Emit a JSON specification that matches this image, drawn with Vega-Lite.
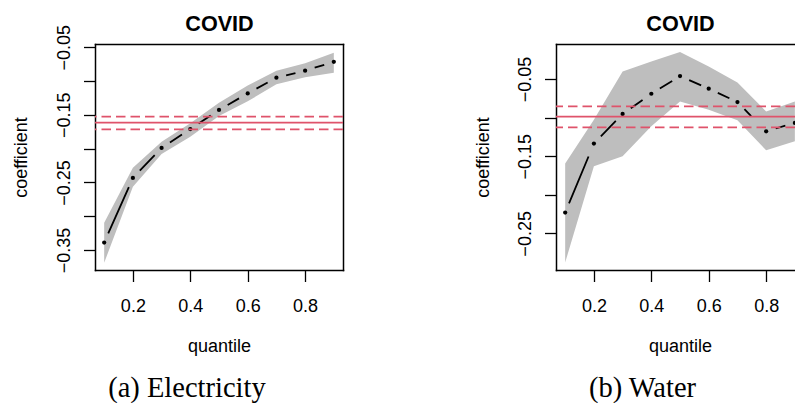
{
  "$schema": "https://vega.github.io/schema/vega-lite/v6.json",
  "background": "white",
  "autosize": {"type": "pad"},
  "padding": {"left": 12, "top": 13, "right": 0, "bottom": 0},
  "spacing": 130,
  "config": {
    "view": {"stroke": null},
    "axis": {
      "labelFont": "Liberation Sans",
      "titleFont": "Liberation Sans",
      "labelFontSize": 18,
      "titleFontSize": 18,
      "titleFontWeight": "normal",
      "labelColor": "black",
      "titleColor": "black",
      "domainColor": "black",
      "tickColor": "black",
      "domainWidth": 1.5,
      "domainCap": "square",
      "tickWidth": 1.3,
      "tickSize": 11.5,
      "grid": false,
      "labelFlush": false,
      "labelOverlap": false
    }
  },
  "datasets": {
    "electricity": [
      {"q": 0.1, "coef": -0.339, "lo": -0.3688, "hi": -0.3096},
      {"q": 0.2, "coef": -0.2433, "lo": -0.2563, "hi": -0.2282},
      {"q": 0.3, "coef": -0.199, "lo": -0.2079, "hi": -0.1897},
      {"q": 0.4, "coef": -0.171, "lo": -0.1823, "hi": -0.1625},
      {"q": 0.5, "coef": -0.1427, "lo": -0.1517, "hi": -0.132},
      {"q": 0.6, "coef": -0.1183, "lo": -0.13, "hi": -0.1065},
      {"q": 0.7, "coef": -0.095, "lo": -0.1048, "hi": -0.0846},
      {"q": 0.8, "coef": -0.0846, "lo": -0.0944, "hi": -0.0737},
      {"q": 0.9, "coef": -0.0716, "lo": -0.0876, "hi": -0.058}
    ],
    "electricity_ols": [{"est": -0.1616, "lo": -0.1714, "hi": -0.1527}],
    "water": [
      {"q": 0.1, "coef": -0.2231, "lo": -0.2877, "hi": -0.1594},
      {"q": 0.2, "coef": -0.1336, "lo": -0.1629, "hi": -0.1026},
      {"q": 0.3, "coef": -0.0952, "lo": -0.15, "hi": -0.0402},
      {"q": 0.4, "coef": -0.069, "lo": -0.111, "hi": -0.0273},
      {"q": 0.5, "coef": -0.0461, "lo": -0.079, "hi": -0.015},
      {"q": 0.6, "coef": -0.0625, "lo": -0.0897, "hi": -0.0337},
      {"q": 0.7, "coef": -0.0797, "lo": -0.1035, "hi": -0.0544},
      {"q": 0.8, "coef": -0.1177, "lo": -0.1422, "hi": -0.0919},
      {"q": 0.9, "coef": -0.1068, "lo": -0.1306, "hi": -0.0789}
    ],
    "water_ols": [{"est": -0.0987, "lo": -0.1125, "hi": -0.0854}]
  },
  "hconcat": [
    {
      "title": {"text": "(a) Electricity", "orient": "bottom", "font": "Liberation Serif", "fontSize": 28.5, "fontWeight": "normal", "color": "black", "anchor": "middle", "baseline": "alphabetic", "offset": 42, "dx": 9},
      "vconcat": [
        {
          "width": 248,
          "height": 226,
          "data": {"name": "electricity"},
          "resolve": {"axis": {"x": "independent", "y": "independent"}},
          "layer": [
            {
              "mark": {"type": "area", "color": "#BEBEBE", "opacity": 1},
              "encoding": {
                "x": {"field": "q", "type": "quantitative", "scale": {"domain": [0.068, 0.932], "nice": false, "zero": false},
                  "axis": {"orient": "bottom", "values": [0.2, 0.4, 0.6, 0.8], "format": ".1f", "title": "quantile", "labelBaseline": "alphabetic", "labelPadding": 29.5, "titleBaseline": "alphabetic", "titleY": 81, "titleX": 124}},
                "y": {"field": "lo", "type": "quantitative", "scale": {"domain": [-0.3795, -0.0452], "nice": false, "zero": false},
                  "axis": {"orient": "left", "values": [-0.35, -0.3, -0.25, -0.2, -0.15, -0.1, -0.05], "labelExpr": "abs(round(datum.value*100)) % 10 == 5 ? format(datum.value, '.2f') : ''", "labelAngle": -90, "labelAlign": "center", "labelBaseline": "alphabetic", "labelPadding": 14.5, "title": "coefficient", "titleAngle": -90, "titleX": -69, "titleY": 113, "titleBaseline": "alphabetic", "titleAlign": "center"}},
                "y2": {"field": "hi"}
              }
            },
            {
              "transform": [
                {"window": [{"op": "lead", "field": "q", "as": "q2"}, {"op": "lead", "field": "coef", "as": "coef2"}], "sort": [{"field": "q"}]},
                {"filter": "datum.q2 != null"}
              ],
              "mark": {"type": "rule", "color": "black", "strokeWidth": 1.8},
              "encoding": {
                "x": {"field": "q", "type": "quantitative", "axis": {"orient": "top", "ticks": false, "labels": false, "title": "COVID", "titleFontSize": 21.6, "titleFontWeight": "bold", "titleBaseline": "alphabetic", "titleAlign": "center", "titleAngle": 0, "titleX": 124, "titleY": -13.3}},
                "y": {"field": "coef", "type": "quantitative", "axis": {"orient": "right", "ticks": false, "labels": false, "title": null}},
                "x2": {"field": "q2"},
                "y2": {"field": "coef2"},
                "strokeDash": {"field": "q", "type": "ordinal", "legend": null,
                  "scale": {"domain": [0.1, 0.2, 0.3, 0.4, 0.5, 0.6, 0.7, 0.8],
                    "range": [[0, 10, 50.8, 200], [0, 10, 21.5, 200], [0, 10, 14.4, 200], [0, 10, 14.5, 200], [0, 10, 13.1, 200], [0, 10, 12.75, 200], [0, 10, 9.6, 200], [0, 10, 10, 200]]}}
              }
            },
            {
              "mark": {"type": "point", "filled": true, "color": "black", "size": 18, "opacity": 1},
              "encoding": {
                "x": {"field": "q", "type": "quantitative", "axis": null},
                "y": {"field": "coef", "type": "quantitative", "axis": null}
              }
            },
            {
              "data": {"name": "electricity_ols"},
              "mark": {"type": "rule", "color": "#DF536B", "strokeWidth": 1.7},
              "encoding": {"y": {"field": "est", "type": "quantitative", "axis": null}}
            },
            {
              "data": {"name": "electricity_ols"},
              "mark": {"type": "rule", "color": "#DF536B", "strokeWidth": 1.7, "strokeDash": [9.5, 5]},
              "encoding": {"y": {"field": "lo", "type": "quantitative", "axis": null}}
            },
            {
              "data": {"name": "electricity_ols"},
              "mark": {"type": "rule", "color": "#DF536B", "strokeWidth": 1.7, "strokeDash": [9.5, 5]},
              "encoding": {"y": {"field": "hi", "type": "quantitative", "axis": null}}
            }
          ]
        }
      ]
    },
    {
      "title": {"text": "(b) Water", "orient": "bottom", "font": "Liberation Serif", "fontSize": 28.5, "fontWeight": "normal", "color": "black", "anchor": "middle", "baseline": "alphabetic", "offset": 42, "dx": 7},
      "vconcat": [
        {
          "width": 239,
          "height": 226,
          "data": {"name": "water"},
          "resolve": {"axis": {"x": "independent", "y": "independent"}},
          "layer": [
            {
              "mark": {"type": "area", "color": "#BEBEBE", "opacity": 1},
              "encoding": {
                "x": {"field": "q", "type": "quantitative", "scale": {"domain": [0.068, 0.9005], "nice": false, "zero": false},
                  "axis": {"orient": "bottom", "values": [0.2, 0.4, 0.6, 0.8], "format": ".1f", "title": "quantile", "labelBaseline": "alphabetic", "labelPadding": 29.5, "titleBaseline": "alphabetic", "titleY": 81, "titleX": 124}},
                "y": {"field": "lo", "type": "quantitative", "scale": {"domain": [-0.2975, -0.0045], "nice": false, "zero": false},
                  "axis": {"orient": "left", "values": [-0.25, -0.2, -0.15, -0.1, -0.05], "labelExpr": "abs(round(datum.value*100)) % 10 == 5 ? format(datum.value, '.2f') : ''", "labelAngle": -90, "labelAlign": "center", "labelBaseline": "alphabetic", "labelPadding": 14.5, "title": "coefficient", "titleAngle": -90, "titleX": -68, "titleY": 113, "titleBaseline": "alphabetic", "titleAlign": "center"}},
                "y2": {"field": "hi"}
              }
            },
            {
              "transform": [
                {"window": [{"op": "lead", "field": "q", "as": "q2"}, {"op": "lead", "field": "coef", "as": "coef2"}], "sort": [{"field": "q"}]},
                {"filter": "datum.q2 != null"}
              ],
              "mark": {"type": "rule", "color": "black", "strokeWidth": 1.8},
              "encoding": {
                "x": {"field": "q", "type": "quantitative", "axis": {"orient": "top", "ticks": false, "labels": false, "title": "COVID", "titleFontSize": 21.6, "titleFontWeight": "bold", "titleBaseline": "alphabetic", "titleAlign": "center", "titleAngle": 0, "titleX": 124, "titleY": -13.3}},
                "y": {"field": "coef", "type": "quantitative", "axis": null},
                "x2": {"field": "q2"},
                "y2": {"field": "coef2"},
                "strokeDash": {"field": "q", "type": "ordinal", "legend": null,
                  "scale": {"domain": [0.1, 0.2, 0.3, 0.4, 0.5, 0.6, 0.7, 0.8],
                    "range": [[0, 10, 54.8, 200], [0, 10, 21.25, 200], [0, 10, 15.1, 200], [0, 10, 13.7, 200], [0, 10, 11.4, 200], [0, 10, 11.6, 200], [0, 10, 21, 200], [0, 10, 9.9, 200]]}}
              }
            },
            {
              "mark": {"type": "point", "filled": true, "color": "black", "size": 18, "opacity": 1},
              "encoding": {
                "x": {"field": "q", "type": "quantitative", "axis": null},
                "y": {"field": "coef", "type": "quantitative", "axis": null}
              }
            },
            {
              "data": {"name": "water_ols"},
              "mark": {"type": "rule", "color": "#DF536B", "strokeWidth": 1.7},
              "encoding": {"y": {"field": "est", "type": "quantitative", "axis": null}}
            },
            {
              "data": {"name": "water_ols"},
              "mark": {"type": "rule", "color": "#DF536B", "strokeWidth": 1.7, "strokeDash": [9.5, 5]},
              "encoding": {"y": {"field": "lo", "type": "quantitative", "axis": null}}
            },
            {
              "data": {"name": "water_ols"},
              "mark": {"type": "rule", "color": "#DF536B", "strokeWidth": 1.7, "strokeDash": [9.5, 5]},
              "encoding": {"y": {"field": "hi", "type": "quantitative", "axis": null}}
            }
          ]
        }
      ]
    }
  ]
}
